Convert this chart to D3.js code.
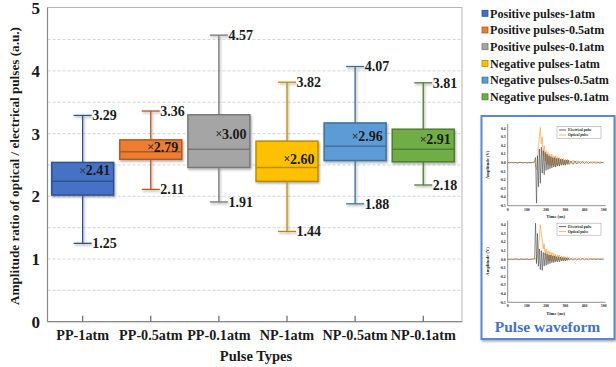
<!DOCTYPE html>
<html>
<head>
<meta charset="utf-8">
<script src="https://cdn.jsdelivr.net/npm/d3@7"></script>
<style>
  html, body { margin: 0; padding: 0; background: #fff; }
  svg { display: block; }
  text { font-family: "Liberation Serif", "Times New Roman", serif; font-weight: bold; }
</style>
</head>
<body>
<svg id="chart" width="616" height="367"></svg>
<script>
// ---- Box plot data: amplitude ratio of optical / electrical pulses ----
const categories = ["PP-1atm", "PP-0.5atm", "PP-0.1atm", "NP-1atm", "NP-0.5atm", "NP-0.1atm"];
const seriesNames = ["Positive pulses-1atm", "Positive pulses-0.5atm", "Positive pulses-0.1atm",
                     "Negative pulses-1atm", "Negative pulses-0.5atm", "Negative pulses-0.1atm"];
const whiskerMin = [1.25, 2.11, 1.91, 1.44, 1.88, 2.18];
const quartile1  = [2.02, 2.59, 2.46, 2.24, 2.57, 2.55];
const medians    = [2.24, 2.71, 2.75, 2.46, 2.80, 2.75];
const quartile3  = [2.54, 2.90, 3.30, 2.88, 3.17, 3.07];
const whiskerMax = [3.29, 3.36, 4.57, 3.82, 4.07, 3.81];
const means      = [2.41, 2.79, 3.00, 2.60, 2.96, 2.91];
const yTicks = [0, 1, 2, 3, 4, 5];
const gridValues = [0.5, 1, 1.5, 2, 2.5, 3, 3.5, 4, 4.5];

const fillColors   = ["#4472C4", "#ED7D31", "#A5A5A5", "#FFC000", "#5B9BD5", "#70AD47"];
const strokeColors = ["#2F528F", "#AE5A21", "#787878", "#BC8C00", "#41719C", "#507E32"];

// ---- Pulse waveform inset data (time in ns, amplitude in V) ----
const waveTime = [0,10,20,30,40,50,60,70,80,90,100,110,120,130,
  140,145,150,155,160,165,170,175,180,185,190,195,200,205,210,215,220,225,230,235,240,245,250,255,260,265,270,275,280,285,290,295,300,305,310,315,320,
  330,340,350,360,370,380,390,400,410,420,430,440,450,460,470,480,490,500];
const electricalA = [0.004,-0.003,0.005,-0.002,0.003,-0.004,0.002,0.004,-0.003,0.002,-0.004,0.003,-0.002,0.004,
  0.01,0.06,-0.47,0.08,-0.28,0.16,-0.24,0.18,-0.12,0.14,-0.14,0.12,-0.09,0.10,-0.08,0.08,-0.07,0.07,-0.06,0.06,-0.05,0.06,-0.05,0.05,-0.04,0.05,-0.04,0.04,-0.03,0.04,-0.03,0.03,-0.03,0.03,-0.02,0.03,-0.02,
  0.02,-0.02,0.02,-0.015,0.015,-0.01,0.015,-0.01,0.01,-0.01,0.01,-0.008,0.01,-0.008,0.008,-0.006,0.006,-0.004];
const opticalA = [0.003,0.005,-0.003,0.004,0.002,-0.003,0.004,0.003,-0.002,0.005,0.002,-0.003,0.004,0.002,
  0.0,-0.02,-0.08,0.05,0.20,0.30,0.41,0.22,0.30,0.08,0.20,0.02,0.14,-0.02,0.12,-0.03,0.10,-0.04,0.10,-0.03,0.08,-0.04,0.08,-0.03,0.07,-0.03,0.06,-0.02,0.05,-0.02,0.05,-0.02,0.04,-0.01,0.04,-0.01,0.03,
  -0.01,0.03,-0.01,0.025,-0.01,0.02,-0.008,0.02,-0.005,0.015,-0.005,0.015,-0.004,0.012,-0.004,0.01,0.0,0.01];
const electricalB = [0.003,-0.002,0.004,-0.003,0.002,0.003,-0.004,0.002,0.003,-0.002,0.004,-0.003,0.002,0.003,
  0.01,0.42,-0.05,0.30,-0.08,0.12,-0.12,0.10,-0.13,0.08,-0.08,0.07,-0.07,0.06,-0.06,0.05,-0.05,0.05,-0.04,0.04,-0.04,0.04,-0.03,0.03,-0.03,0.03,-0.03,0.025,-0.02,0.02,-0.02,0.02,-0.02,0.015,-0.015,0.015,-0.01,
  0.01,-0.01,0.01,-0.008,0.008,-0.006,0.008,-0.006,0.006,-0.005,0.005,-0.004,0.005,-0.004,0.004,-0.003,0.003,-0.002];
const opticalB = [0.002,0.004,-0.002,0.003,0.005,-0.002,0.003,0.004,-0.003,0.002,0.004,0.002,-0.002,0.003,
  0.0,0.01,-0.02,0.05,0.12,0.25,0.40,0.30,0.22,0.12,0.18,0.05,0.12,0.0,0.10,-0.02,0.09,-0.02,0.08,-0.02,0.07,-0.02,0.06,-0.02,0.05,-0.01,0.05,-0.01,0.04,-0.01,0.035,-0.01,0.03,-0.005,0.03,-0.005,0.025,
  -0.005,0.02,-0.005,0.02,0.0,0.018,0.0,0.015,0.0,0.015,0.002,0.012,0.0,0.01,0.002,0.01,0.0,0.015];
const waveAmpTicks = [0.4,0.3,0.2,0.1,0.0,-0.1,-0.2,-0.3,-0.4,-0.5];
const waveTimeTicks = [0,100,200,300,400,500];

const svg = d3.select("#chart");
const defs = svg.append("defs");
const shadow = defs.append("filter").attr("id", "shadow")
  .attr("x", "-20%").attr("y", "-20%").attr("width", "150%").attr("height", "150%");
shadow.append("feDropShadow").attr("dx", 1).attr("dy", 1.5).attr("stdDeviation", 0.9)
  .attr("flood-color", "#000").attr("flood-opacity", 0.35);

// ---- Main plot scales ----
const plot = { left: 47.5, right: 462, top: 7.5, bottom: 321.7 };
const x = d3.scaleBand().domain(categories).range([48.6, 457.3]);
const y = d3.scaleLinear().domain([0, 5]).range([321.7, 8.2]);
const cx = c => x(c) + x.bandwidth() / 2;

// grid
svg.append("g").selectAll("line").data(gridValues).join("line")
  .attr("x1", plot.left).attr("x2", plot.right)
  .attr("y1", d => y(d)).attr("y2", d => y(d))
  .attr("stroke", "#c9c9c9").attr("stroke-width", 0.8).attr("stroke-dasharray", "3,2");

// frame
svg.append("rect").attr("x", plot.left).attr("y", plot.top)
  .attr("width", plot.right - plot.left).attr("height", plot.bottom - plot.top)
  .attr("fill", "none").attr("stroke", "#b5b5b5").attr("stroke-width", 1);
svg.append("line").attr("x1", plot.left).attr("x2", plot.left).attr("y1", plot.top).attr("y2", plot.bottom)
  .attr("stroke", "#8a8a8a").attr("stroke-width", 1.2);
svg.append("line").attr("x1", plot.left).attr("x2", plot.right).attr("y1", plot.bottom).attr("y2", plot.bottom)
  .attr("stroke", "#8a8a8a").attr("stroke-width", 1.2);

// y tick labels
svg.append("g").selectAll("text").data(yTicks).join("text")
  .attr("x", 40).attr("y", d => y(d)).attr("dy", "0.35em")
  .attr("text-anchor", "end").attr("font-size", 17).attr("fill", "#1a1a1a")
  .text(d => d);

// x ticks (inward) and labels
svg.append("g").selectAll("line").data(categories).join("line")
  .attr("x1", d => cx(d)).attr("x2", d => cx(d))
  .attr("y1", plot.bottom).attr("y2", plot.bottom - 6)
  .attr("stroke", "#666").attr("stroke-width", 1.2);
svg.append("g").selectAll("text").data(categories).join("text")
  .attr("x", d => cx(d)).attr("y", 340)
  .attr("text-anchor", "middle").attr("font-size", 14.2).attr("fill", "#1a1a1a")
  .text(d => d);

// axis titles
svg.append("text").attr("x", 256).attr("y", 361).attr("text-anchor", "middle")
  .attr("font-size", 14.5).attr("fill", "#1a1a1a").text("Pulse Types");
svg.append("text").attr("transform", "translate(19,166) rotate(-90)")
  .attr("text-anchor", "middle").attr("font-size", 13.2).attr("fill", "#1a1a1a")
  .text("Amplitude ratio of optical / electrical pulses (a.u.)");

// ---- Boxes ----
const boxW = x.bandwidth() * 0.91;
const capW = 18;
const boxes = svg.append("g").selectAll("g").data(categories).join("g")
  .attr("filter", "url(#shadow)");

boxes.each(function(c, i) {
  const g = d3.select(this);
  const xc = cx(c);
  // whiskers
  g.append("line").attr("x1", xc).attr("x2", xc).attr("y1", y(quartile3[i])).attr("y2", y(whiskerMax[i]))
    .attr("stroke", strokeColors[i]).attr("stroke-width", 1.3);
  g.append("line").attr("x1", xc).attr("x2", xc).attr("y1", y(quartile1[i])).attr("y2", y(whiskerMin[i]))
    .attr("stroke", strokeColors[i]).attr("stroke-width", 1.3);
  [whiskerMax[i], whiskerMin[i]].forEach(v => {
    g.append("line").attr("x1", xc - capW / 2).attr("x2", xc + capW / 2).attr("y1", y(v)).attr("y2", y(v))
      .attr("stroke", strokeColors[i]).attr("stroke-width", 1.3);
  });
  // box
  g.append("rect").attr("x", xc - boxW / 2).attr("y", y(quartile3[i]))
    .attr("width", boxW).attr("height", y(quartile1[i]) - y(quartile3[i]))
    .attr("fill", fillColors[i]).attr("stroke", strokeColors[i]).attr("stroke-width", 1.5);
  // median
  g.append("line").attr("x1", xc - boxW / 2).attr("x2", xc + boxW / 2)
    .attr("y1", y(medians[i])).attr("y2", y(medians[i]))
    .attr("stroke", strokeColors[i]).attr("stroke-width", 1.5);
});

// whisker labels
const labelG = svg.append("g");
categories.forEach((c, i) => {
  const xc = cx(c);
  [whiskerMax[i], whiskerMin[i]].forEach(v => {
    labelG.append("text").attr("x", xc + capW / 2 + 0.5).attr("y", y(v)).attr("dy", "0.35em")
      .attr("font-size", 14).attr("fill", "#1a1a1a").text(v.toFixed(2));
  });
  // mean marker and label
  const ym = y(means[i]);
  labelG.append("path").attr("d", `M${xc - 2.2},${ym - 2.2}L${xc + 2.2},${ym + 2.2}M${xc - 2.2},${ym + 2.2}L${xc + 2.2},${ym - 2.2}`)
    .attr("stroke", "#404040").attr("stroke-width", 1.1);
  labelG.append("text").attr("x", xc + 3).attr("y", ym).attr("dy", "0.35em")
    .attr("font-size", 14).attr("fill", "#1a1a1a").text(means[i].toFixed(2));
});

// ---- Legend ----
const legend = svg.append("g").selectAll("g").data(seriesNames).join("g")
  .attr("transform", (d, i) => `translate(482, ${13.3 + i * 16.7})`);
legend.append("rect").attr("x", 0).attr("y", -3).attr("width", 6).attr("height", 6)
  .attr("fill", (d, i) => fillColors[i]).attr("stroke", (d, i) => strokeColors[i]).attr("stroke-width", 0.8);
legend.append("text").attr("x", 8).attr("y", 0).attr("dy", "0.35em")
  .attr("font-size", 12.1).attr("fill", "#1a1a1a").text(d => d);

// ---- Pulse waveform inset ----
svg.append("rect").attr("x", 481.5).attr("y", 116).attr("width", 133).attr("height", 223)
  .attr("fill", "#fff").attr("stroke", "#5a88d2").attr("stroke-width", 2)
  .attr("filter", "url(#shadow)");

function wavePanel(yZero, elec, opt) {
  const g = svg.append("g");
  const tx = d3.scaleLinear().domain([0, 500]).range([507.7, 603.7]);
  const ay = d3.scaleLinear().domain([-0.5, 0]).range([yZero + 43, yZero]);
  const top = ay(0.45), bottom = ay(-0.5);
  g.append("line").attr("x1", tx(0)).attr("x2", tx(0)).attr("y1", top).attr("y2", bottom).attr("stroke", "#222").attr("stroke-width", 0.5);
  g.append("line").attr("x1", tx(0)).attr("x2", tx(500) + 2).attr("y1", bottom).attr("y2", bottom).attr("stroke", "#222").attr("stroke-width", 0.5);
  g.selectAll(".yt").data(waveAmpTicks).join("text")
    .attr("x", tx(0) - 2).attr("y", d => ay(d)).attr("dy", "0.35em").attr("text-anchor", "end")
    .attr("font-family", "Liberation Sans, Arial, sans-serif").attr("font-size", 3.8).attr("fill", "#222")
    .text(d => d.toFixed(1));
  g.selectAll(".xt").data(waveTimeTicks).join("text")
    .attr("x", d => tx(d)).attr("y", bottom + 5).attr("text-anchor", "middle")
    .attr("font-family", "Liberation Sans, Arial, sans-serif").attr("font-size", 3.8).attr("fill", "#222")
    .text(d => d);
  g.append("text").attr("x", tx(250)).attr("y", bottom + 12.5).attr("text-anchor", "middle")
    .attr("font-family", "Liberation Sans, Arial, sans-serif").attr("font-size", 4.6).attr("fill", "#222")
    .text("Time (ns)");
  g.append("text").attr("transform", `translate(489,${(top + bottom) / 2}) rotate(-90)`).attr("text-anchor", "middle")
    .attr("font-family", "Liberation Sans, Arial, sans-serif").attr("font-size", 4.6).attr("fill", "#222")
    .text("Amplitude (V)");
  const line = d3.line().x((d, i) => tx(waveTime[i])).y(d => ay(d));
  g.append("path").datum(opt).attr("d", line).attr("fill", "none").attr("stroke", "#f5a44a").attr("stroke-width", 0.7);
  g.append("path").datum(elec).attr("d", line).attr("fill", "none").attr("stroke", "#3a3a3a").attr("stroke-width", 0.6).attr("opacity", 0.9);
  // legend box
  const lg = g.append("g").attr("transform", `translate(557,${top + 2.5})`);
  lg.append("rect").attr("width", 44).attr("height", 12).attr("fill", "#fff").attr("stroke", "#555").attr("stroke-width", 0.3);
  [["Electrical pulse", "#3a3a3a"], ["Optical pulse", "#f5a44a"]].forEach(([name, col], k) => {
    lg.append("line").attr("x1", 2).attr("x2", 9).attr("y1", 3.5 + k * 5).attr("y2", 3.5 + k * 5)
      .attr("stroke", col).attr("stroke-width", 0.8);
    lg.append("text").attr("x", 11).attr("y", 3.5 + k * 5).attr("dy", "0.35em")
      .attr("font-family", "Liberation Sans, Arial, sans-serif").attr("font-size", 3.6).attr("fill", "#222")
      .text(name);
  });
}
wavePanel(162.7, electricalA, opticalA);
wavePanel(259.3, electricalB, opticalB);

svg.append("text").attr("x", 547.5).attr("y", 332).attr("text-anchor", "middle")
  .attr("font-size", 15.5).attr("fill", "#4472C4").text("Pulse waveform");
</script>
</body>
</html>
